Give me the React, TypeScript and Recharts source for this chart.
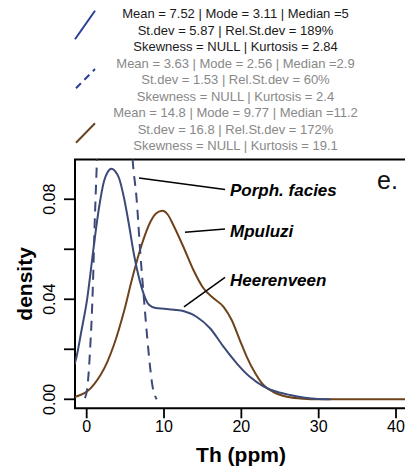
import React from 'react';
import { LineChart, Line, XAxis, YAxis, ReferenceArea, ReferenceLine } from 'recharts';

// ---------- data ----------
const heerenveenTh = [-2.0, -1.4, -0.7, 0.08, 0.94, 1.59, 2.24, 2.7, 3.18, 3.7, 4.18, 4.83, 5.47, 6.12, 6.77, 7.41, 8.06, 8.93, 10.0, 11.3, 12.6, 14.2, 15.95, 17.7, 19.4, 21.1, 22.85, 24.6, 26.3, 28.0, 29.5, 31.5];
const heerenveenDensity = [0.011, 0.0158, 0.027, 0.0405, 0.0618, 0.0765, 0.0872, 0.0908, 0.0922, 0.0912, 0.0885, 0.0805, 0.0698, 0.0578, 0.0485, 0.0418, 0.0378, 0.0365, 0.0362, 0.0358, 0.0352, 0.033, 0.0284, 0.021, 0.0144, 0.009, 0.0052, 0.003, 0.0017, 0.0007, 0.0002, 0.0];

const porphTh = [-0.22, 0.08, 0.43, 0.78, 1.03, 1.29, 1.6, 2.0, 2.56, 3.1, 3.8, 4.5, 5.2, 5.6, 6.03, 6.46, 6.9, 7.41, 7.97, 8.5, 9.05];
const porphDensity = [0.0005, 0.0045, 0.0192, 0.0432, 0.0698, 0.0925, 0.12, 0.15, 0.17, 0.165, 0.15, 0.13, 0.115, 0.108, 0.0925, 0.08, 0.06, 0.04, 0.02, 0.0055, 0.0];

const mpuluziTh = [-2.0, -1.0, 0.08, 1.0, 1.81, 2.7, 3.53, 4.83, 5.9, 6.98, 8.28, 9.0, 9.8, 10.5, 11.2, 12.5, 13.8, 15.1, 16.4, 17.7, 18.75, 19.8, 20.7, 21.8, 22.85, 24.1, 25.9, 28.0, 30.0, 45.0];
const mpuluziDensity = [0.0005, 0.0015, 0.0032, 0.0062, 0.0098, 0.0152, 0.0218, 0.0352, 0.0485, 0.0605, 0.0712, 0.0744, 0.0754, 0.0738, 0.0697, 0.061, 0.0517, 0.0444, 0.0404, 0.037, 0.0317, 0.0237, 0.017, 0.0104, 0.0057, 0.003, 0.001, 0.0002, 0.0, 0.0];

const xTicks = [0, 10, 20, 30, 40];
const yTicks = [0, 0.02, 0.04, 0.06, 0.08];
const yLabelTicks = [0, 0.04, 0.08];

const legendLines = [
  'Mean = 7.52 | Mode = 3.11 | Median =5',
  'St.dev = 5.87 | Rel.St.dev = 189%',
  'Skewness = NULL | Kurtosis = 2.84',
  'Mean = 3.63 | Mode = 2.56 | Median =2.9',
  'St.dev = 1.53 | Rel.St.dev = 60%',
  'Skewness = NULL | Kurtosis = 2.4',
  'Mean = 14.8 | Mode = 9.77 | Median =11.2',
  'St.dev = 16.8 | Rel.St.dev = 172%',
  'Skewness = NULL | Kurtosis = 19.1',
];

const annotationLabels = ['Porph. facies', 'Mpuluzi', 'Heerenveen'];
const annotationFromTh = [6.77, 12.71, 12.58];
const annotationFromDensity = [0.0885, 0.0668, 0.037];
const annotationToTh = [17.89, 17.89, 17.89];
const annotationToDensity = [0.0839, 0.0681, 0.0488];

// ---------- styling / layout ----------
const FONT = '"Liberation Sans", Arial, Helvetica, sans-serif';
const BLUE = '#3c4a78';
const BROWN = '#6e431c';
const X_DOMAIN: [number, number] = [-1.51, 41.42];
const Y_DOMAIN: [number, number] = [-0.0036, 0.0959];
const annotationDy = [6.5, 8, 8.5];

const toRows = (xs: number[], ys: number[]) => xs.map((x, i) => ({ x, y: ys[i] }));
const heerenveenData = toRows(heerenveenTh, heerenveenDensity);
const porphData = toRows(porphTh, porphDensity);
const mpuluziData = toRows(mpuluziTh, mpuluziDensity);

const XTick = (props: any) => {
  const { x, y, payload } = props;
  return (
    <text x={x} y={y} dy={11.2} textAnchor="middle" fontSize={16} fontFamily={FONT} fill="#000">
      {payload.value}
    </text>
  );
};

const YTick = (props: any) => {
  const { x, y, payload } = props;
  const show = yLabelTicks.some((t) => Math.abs(t - payload.value) < 1e-9);
  if (!show) return <g />;
  return (
    <text
      x={x}
      y={y}
      transform={`rotate(-90, ${x}, ${y})`}
      textAnchor="middle"
      fontSize={16}
      fontFamily={FONT}
      fill="#000"
    >
      {Number(payload.value).toFixed(2)}
    </text>
  );
};

const XTitle = (props: any) => {
  const vb = props.viewBox || { x: 75, y: 408.3, width: 332, height: 60 };
  return (
    <text
      x={vb.x + vb.width / 2}
      y={vb.y + 54}
      textAnchor="middle"
      fontSize={21}
      fontWeight="bold"
      fontFamily={FONT}
      fill="#000"
    >
      Th (ppm)
    </text>
  );
};

const YTitle = (props: any) => {
  const vb = props.viewBox || { x: 0, y: 159.5, width: 75, height: 248.8 };
  const cx = vb.x + 32;
  const cy = vb.y + vb.height / 2;
  return (
    <text
      x={cx}
      y={cy}
      transform={`rotate(-90, ${cx}, ${cy})`}
      textAnchor="middle"
      fontSize={21}
      fontWeight="bold"
      fontFamily={FONT}
      fill="#000"
    >
      density
    </text>
  );
};

export default function App() {
  return (
    <div style={{ width: 389, height: 459 }}>
      <div style={{ position: 'fixed', left: 0, top: 0, width: 405, height: 475, overflow: 'hidden', background: '#fff' }}>
        <LineChart width={440} height={475} margin={{ top: 159.5, right: 33, bottom: 6.7, left: 0 }}>
          <XAxis
            type="number"
            dataKey="x"
            domain={X_DOMAIN}
            allowDataOverflow
            ticks={xTicks}
            interval={0}
            tickSize={10}
            tickMargin={2}
            tickLine={{ stroke: '#000', strokeWidth: 1.8 }}
            axisLine={false}
            height={60}
            tick={<XTick />}
            label={<XTitle />}
          />
          <YAxis
            type="number"
            domain={Y_DOMAIN}
            allowDataOverflow
            ticks={yTicks}
            interval={0}
            width={75}
            tickSize={11}
            tickMargin={9}
            tickLine={{ stroke: '#000', strokeWidth: 1.8 }}
            axisLine={false}
            tick={<YTick />}
            label={<YTitle />}
          />
          <ReferenceArea
            x1={X_DOMAIN[0]}
            x2={X_DOMAIN[1]}
            y1={Y_DOMAIN[0]}
            y2={Y_DOMAIN[1]}
            fill="none"
            fillOpacity={0}
            stroke="#000"
            strokeWidth={2}
            ifOverflow="visible"
          />
          <Line
            data={mpuluziData}
            dataKey="y"
            type="monotone"
            stroke={BROWN}
            strokeWidth={2}
            dot={false}
            activeDot={false}
            isAnimationActive={false}
          />
          <Line
            data={heerenveenData}
            dataKey="y"
            type="monotone"
            stroke={BLUE}
            strokeWidth={2}
            dot={false}
            activeDot={false}
            isAnimationActive={false}
          />
          <Line
            data={porphData}
            dataKey="y"
            type="monotone"
            stroke={BLUE}
            strokeWidth={2}
            strokeDasharray="10 7"
            dot={false}
            activeDot={false}
            isAnimationActive={false}
          />
          {annotationLabels.map((label, i) => (
            <ReferenceLine
              key={label}
              segment={[
                { x: annotationFromTh[i], y: annotationFromDensity[i] },
                { x: annotationToTh[i], y: annotationToDensity[i] },
              ]}
              ifOverflow="visible"
              stroke="#000"
              strokeWidth={1.5}
              shape={(p: any) => (
                <g>
                  <line x1={p.x1} y1={p.y1} x2={p.x2} y2={p.y2} stroke="#000" strokeWidth={1.5} />
                  <text
                    x={p.x2 + 5}
                    y={p.y2 + annotationDy[i]}
                    fontSize={17}
                    fontWeight="bold"
                    fontStyle="italic"
                    fontFamily={FONT}
                    fill="#000"
                  >
                    {label}
                  </text>
                </g>
              )}
            />
          ))}
        </LineChart>
        <svg
          width={405}
          height={475}
          style={{ position: 'absolute', left: 0, top: 0, pointerEvents: 'none' }}
        >
          <line x1={75} y1={39.3} x2={95} y2={10.7} stroke="#2a3f98" strokeWidth={2} />
          <line x1={76} y1={88.3} x2={95} y2={69} stroke="#2a3f98" strokeWidth={2} strokeDasharray="7 5" />
          <line x1={76} y1={142.7} x2={95} y2={123.3} stroke="#6a4420" strokeWidth={2} />
          {legendLines.map((t, i) => (
            <text
              key={i}
              x={235.5}
              y={18.3 + i * 16.5}
              textAnchor="middle"
              fontSize={13}
              fontFamily={FONT}
              fill={i < 3 ? '#1a1a1a' : '#888888'}
            >
              {t}
            </text>
          ))}
          <text x={377} y={189} fontSize={25} fontFamily={FONT} fill="#111">
            e.
          </text>
        </svg>
      </div>
    </div>
  );
}
